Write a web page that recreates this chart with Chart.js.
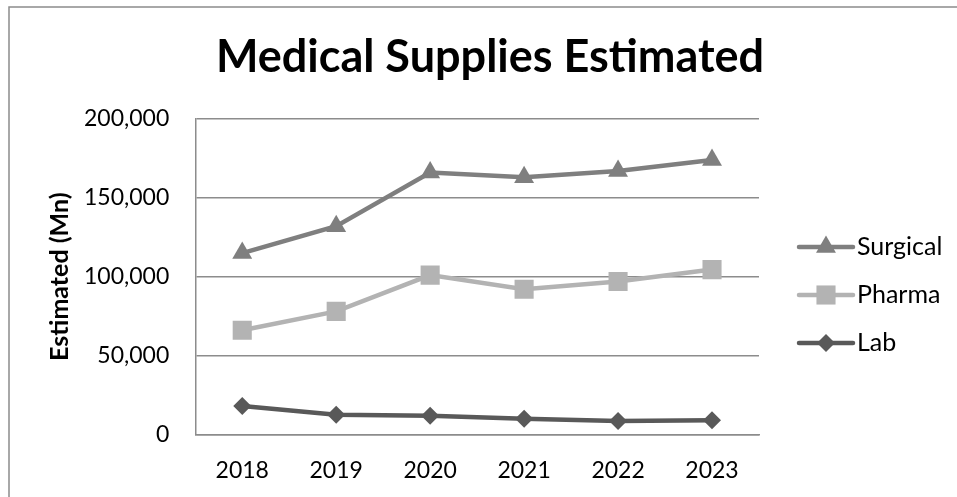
<!DOCTYPE html>
<html>
<head>
<meta charset="utf-8">
<title>Medical Supplies Estimated</title>
<script src="https://cdn.jsdelivr.net/npm/chart.js@4.4.1/dist/chart.umd.min.js"></script>
<style>
    html, body { margin: 0; padding: 0; background: #fff; }
    #wrap { width: 957px; height: 497px; position: relative; }
</style>
</head>
<body>
<div id="wrap"><canvas id="chart"></canvas></div>
<script>
// Chart data
const years = ['2018', '2019', '2020', '2021', '2022', '2023'];
const surgical = [115000, 132000, 166000, 163000, 167000, 174000];
const pharma = [66000, 78000, 101000, 92000, 97000, 104500];
const lab = [18000, 12500, 11800, 10000, 8500, 9000];
const yTicks = [0, 50000, 100000, 150000, 200000];
const chartTitle = 'Medical Supplies Estimated';

const FONT = 'Lato, "Open Sans", sans-serif';
const GRID = '#8c8c8c';

// Frame round the whole chart (only top and left edges are in view) + title
const framePlugin = {
    id: 'frame',
    beforeDraw(chart) {
        const ctx = chart.ctx;
        ctx.save();
        ctx.fillStyle = '#fff';
        ctx.fillRect(0, 0, chart.width, chart.height);
        ctx.strokeStyle = GRID;
        ctx.lineWidth = 1.5;
        ctx.strokeRect(9, 7, chart.width + 20, chart.height + 20);
        // title sits over the whole frame, not just the plot
        ctx.fillStyle = '#000';
        ctx.font = 'bold 45px ' + FONT;
        ctx.textAlign = 'center';
        ctx.textBaseline = 'alphabetic';
        ctx.fillText(chartTitle, 490, 72);
        ctx.restore();
    }
};

// Legend on the right: line sample with its marker, then the name
const sideLegend = {
    id: 'sideLegend',
    afterDraw(chart) {
        const ctx = chart.ctx;
        const x0 = chart.chartArea.right + 40;
        const lineW = 54;
        const rowH = 48;
        const yStart = 247;
        ctx.save();
        chart.data.datasets.forEach((ds, i) => {
            const y = yStart + i * rowH;
            ctx.strokeStyle = ds.borderColor;
            ctx.lineWidth = ds.borderWidth;
            ctx.lineCap = 'round';
            ctx.beginPath();
            ctx.moveTo(x0, y);
            ctx.lineTo(x0 + lineW, y);
            ctx.stroke();
            ctx.fillStyle = ds.pointBackgroundColor;
            ctx.strokeStyle = ds.pointBackgroundColor;
            Chart.helpers.drawPoint(ctx, {
                pointStyle: ds.pointStyle,
                radius: ds.pointRadius,
                borderWidth: 0,
                rotation: 0
            }, x0 + lineW / 2, y);
            ctx.fillStyle = '#000';
            ctx.font = '25px ' + FONT;
            ctx.textBaseline = 'middle';
            ctx.textAlign = 'left';
            ctx.fillText(ds.label, x0 + lineW + 4, y);
        });
        ctx.restore();
    }
};

const ctx = document.getElementById('chart').getContext('2d');
new Chart(ctx, {
    type: 'line',
    data: {
        labels: years,
        datasets: [
            {
                label: 'Surgical',
                data: surgical,
                borderColor: '#7f7f7f',
                pointBackgroundColor: '#7f7f7f',
                pointBorderColor: '#7f7f7f',
                borderWidth: 4.5,
                pointStyle: 'triangle',
                pointRadius: 11.5,
                pointBorderWidth: 0
            },
            {
                label: 'Pharma',
                data: pharma,
                borderColor: '#b3b3b3',
                pointBackgroundColor: '#b3b3b3',
                pointBorderColor: '#b3b3b3',
                borderWidth: 4.5,
                pointStyle: 'rect',
                pointRadius: 13.5,
                pointBorderWidth: 0
            },
            {
                label: 'Lab',
                data: lab,
                borderColor: '#595959',
                pointBackgroundColor: '#595959',
                pointBorderColor: '#595959',
                borderWidth: 4.5,
                pointStyle: 'rectRot',
                pointRadius: 9,
                pointBorderWidth: 0
            }
        ]
    },
    options: {
        responsive: true,
        maintainAspectRatio: false,
        animation: false,
        layout: {
            padding: { top: 119, left: 10, right: 198, bottom: 13 }
        },
        plugins: {
            legend: { display: false },
            tooltip: { enabled: false },
            title: { display: false }
        },
        scales: {
            x: {
                offset: true,
                // invisible tick marks used as the gap between axis and labels
                grid: { display: false, drawTicks: true, tickLength: 22 },
                border: { display: true, color: GRID, width: 1.5 },
                ticks: {
                    color: '#000',
                    padding: 0,
                    maxRotation: 0,
                    font: { family: FONT, size: 23 }
                }
            },
            y: {
                min: 0,
                max: 200000,
                afterBuildTicks: (scale) => {
                    scale.ticks = yTicks.map(v => ({ value: v }));
                },
                grid: { color: GRID, lineWidth: 1.5, drawTicks: true, tickLength: 26, tickColor: 'rgba(0,0,0,0)' },
                border: { display: true, color: GRID, width: 1.5 },
                ticks: {
                    color: '#000',
                    padding: 0,
                    font: { family: FONT, size: 23 },
                    callback: (v) => v.toLocaleString('en-US')
                },
                title: {
                    display: true,
                    text: 'Estimated (Mn)',
                    color: '#000',
                    font: { family: FONT, size: 25, weight: 'bold' },
                    padding: { top: 35, bottom: 9 }
                }
            }
        }
    },
    plugins: [framePlugin, sideLegend]
});
</script>
</body>
</html>
